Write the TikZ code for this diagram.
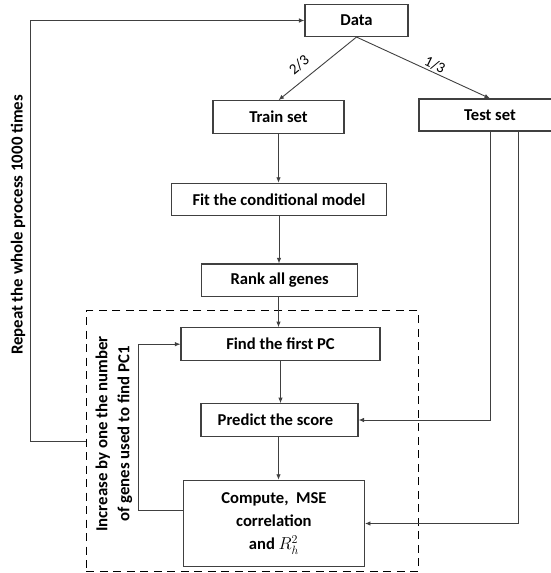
\documentclass[tikz,border=0pt]{standalone}
\usepackage{fontspec}
\setmainfont{Carlito}
\usetikzlibrary{arrows.meta}
\definecolor{edge}{HTML}{404040}
\begin{document}
\begin{tikzpicture}[x=1pt,y=-1pt,
  every node/.style={font=\bfseries\fontsize{16.6}{19}\selectfont, text=black},
  box/.style={draw=edge, line width=1.1pt, inner sep=0pt, align=center},
  link/.style={draw=edge, line width=0.9pt},
  arr/.style={link, -{Latex[length=5.5pt,width=4.5pt]}},
  frac/.style={font=\fontsize{15}{17}\selectfont, inner sep=0pt},
  side/.style={rotate=90, align=center, font=\bfseries\fontsize{16.8}{22}\selectfont}]
\clip (0,0) rectangle (551,573);
\useasboundingbox (0,0) rectangle (551,573);
% process boxes
\node[box, minimum width=103pt, minimum height=32pt] (data) at (356.5,20.5) {Data};
\node[box, minimum width=131pt, minimum height=33pt] (train) at (278.5,117.2) {Train set};
\node[box, minimum width=142pt, minimum height=32pt] (test) at (490,115) {Test set};
\node[box, minimum width=215.7pt, minimum height=32.4pt] (fit) at (279,199.5) {Fit the conditional model};
\node[box, minimum width=156pt, minimum height=32.7pt] (rank) at (279.7,280.3) {Rank all genes};
\node[box, minimum width=199pt, minimum height=33pt] (pc) at (280.5,344.2) {Find the first PC};
\node[box, minimum width=157pt, minimum height=32.6pt] (pred) at (279.5,420) {Predict the score\hspace*{8pt}};
\node[box, minimum width=181pt, minimum height=86.4pt, font=\bfseries\fontsize{16.6}{23}\selectfont] (comp) at (273.9,523.5)
  {Compute,\ \ MSE\\ correlation\\ and \(R_h^2\)};
% dashed frame around the inner loop
\node[draw=black, line width=1.5pt, dash pattern=on 8pt off 5.5pt, minimum width=332pt, minimum height=261pt, inner sep=0pt] (loop) at (252.45,441.2) {};
% split of the data
\draw[arr] (data.south) -- (train.north);
\draw[arr] (data.south) -- (test.north);
\node[frac, rotate=40] (twothirds) at (299,65) {2/3};
\node[frac, rotate=-26] (onethird) at (435,65) {1/3};
% main chain
\draw[arr] (train.south) -- (train.south |- fit.north);
\draw[arr] (fit.south) -- (fit.south |- rank.north);
\draw[arr] (rank.south -| train.south) -- (pc.north -| train.south);
\draw[arr] (pc.south) -- (pc.south |- pred.north);
\draw[arr] (pred.south -| train.south) -- (comp.north -| train.south);
% test set feeds
\draw[arr] (test.south) |- (pred.east);
\draw[arr] ([xshift=28pt]test.south) |- (comp.east);
% inner loop back to the first PC
\draw[arr] ([yshift=13.5pt]comp.west) -- ++(-44.4,0) |- (pc.west);
% outer repetition
\draw[arr] (loop.west) -- ++(-54.8,0) |- (data.west);
% side labels
\node[side] (rep) at (18,225) {Repeat the whole process 1000 times};
\node[side] (inc) at (114,434) {Increase by one the number\\ of genes used to find PC1};
\end{tikzpicture}
\end{document}
